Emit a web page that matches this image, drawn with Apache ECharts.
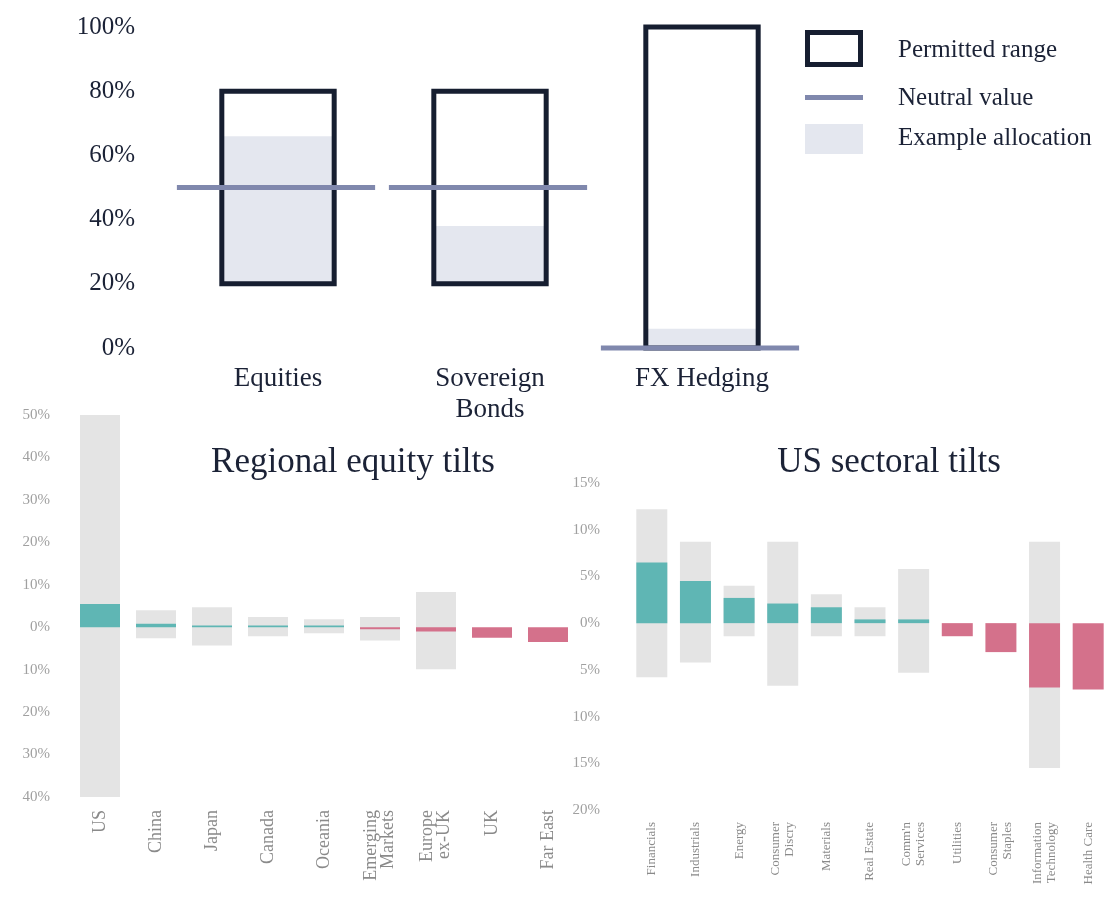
<!DOCTYPE html>
<html>
<head>
<meta charset="utf-8">
<script src="https://cdn.jsdelivr.net/npm/echarts@6/dist/echarts.min.js"></script>
<style>
  html, body { margin: 0; padding: 0; background: #fff; }
  #chart { width: 1110px; height: 915px; }
</style>
</head>
<body>
<div id="chart"></div>
<script>
// top panel: permitted ranges, neutral values, example allocation
var topCats = ['Equities', 'Sovereign\nBonds', 'FX Hedging'];
var rangeLow = [20, 20, 0];
var rangeHigh = [80, 80, 100];
var neutral = [50, 50, 0];
var allocation = [66, 38, 6];

// regional equity tilts
var regions = ['US', 'China', 'Japan', 'Canada', 'Oceania', 'Emerging\nMarkets', 'Europe\nex-UK', 'UK', 'Far East'];
var regionLow = [-40, -2.6, -4.3, -2.1, -1.4, -3.1, -9.9, null, null];
var regionHigh = [50, 4, 4.7, 2.4, 1.9, 2.4, 8.3, null, null];
var regionTilt = [5.5, 0.8, 0.4, 0.4, 0.4, -0.5, -1, -2.5, -3.5];

// US sectoral tilts
var sectors = ['Financials', 'Industrials', 'Energy', 'Consumer\nDiscry', 'Materials', 'Real Estate',
  'Comm\'n\nServices', 'Utilities', 'Consumer\nStaples', 'Information\nTechnology', 'Health Care'];
var sectorLow = [-5.8, -4.2, -1.4, -6.7, -1.4, -1.4, -5.3, null, null, -15.5, null];
var sectorHigh = [12.2, 8.7, 4, 8.7, 3.1, 1.7, 5.8, null, null, 8.7, null];
var sectorTilt = [6.5, 4.5, 2.7, 2.1, 1.7, 0.4, 0.4, -1.4, -3.1, -6.9, -7.1];

var navy = '#161e30';
var textNavy = '#1b2236';
var lilac = '#8088ad';
var paleFill = '#e4e7ef';
var rangeGray = '#e4e4e4';
var teal = '#5fb6b4';
var pink = '#d4718b';
var serif = '"Liberation Serif", "DejaVu Serif", serif';

var myChart = echarts.init(document.getElementById('chart'));

function pairs(lo, hi) {
  var out = [];
  for (var i = 0; i < lo.length; i++) {
    if (lo[i] != null && hi[i] != null) {
      out.push([i, lo[i], hi[i]]);
    }
  }
  return out;
}

function tiltData(arr) {
  return arr.map(function (v) {
    return { value: v, itemStyle: { color: v >= 0 ? teal : pink } };
  });
}

// plain filled range rect, width in px
function rangeRect(w) {
  return function (params, api) {
    var lo = api.coord([api.value(0), api.value(1)]);
    var hi = api.coord([api.value(0), api.value(2)]);
    return {
      type: 'rect',
      shape: { x: lo[0] - w / 2, y: hi[1], width: w, height: lo[1] - hi[1] },
      style: { fill: rangeGray }
    };
  };
}

var option = {
  animation: false,
  backgroundColor: '#fff',
  title: [{
    text: 'Regional equity tilts',
    left: 348, top: 440, textAlign: 'center',
    textStyle: { fontFamily: serif, fontSize: 35, fontWeight: 'normal', color: textNavy }
  }, {
    text: 'US sectoral tilts',
    left: 884, top: 440, textAlign: 'center',
    textStyle: { fontFamily: serif, fontSize: 35, fontWeight: 'normal', color: textNavy }
  }],
  grid: [
    { left: 172, width: 636, top: 27, height: 321 },
    { left: 72, width: 504, top: 415, height: 382 },
    { left: 630, width: 488, top: 483, height: 327 }
  ],
  xAxis: [{
    gridIndex: 0, type: 'category', data: topCats,
    axisLine: { show: false }, axisTick: { show: false },
    axisLabel: { margin: 15, fontFamily: serif, fontSize: 27, color: textNavy, lineHeight: 31 }
  }, {
    gridIndex: 1, type: 'category', data: regions,
    axisLine: { show: false }, axisTick: { show: false },
    axisLabel: { rotate: 90, margin: 13, interval: 0, fontFamily: serif, fontSize: 18, color: '#8a8a8a', lineHeight: 17 }
  }, {
    gridIndex: 2, type: 'category', data: sectors,
    axisLine: { show: false }, axisTick: { show: false },
    axisLabel: { rotate: 90, margin: 12, interval: 0, fontFamily: serif, fontSize: 13, color: '#8a8a8a', lineHeight: 14 }
  }],
  yAxis: [{
    gridIndex: 0, type: 'value', min: 0, max: 100, interval: 20,
    axisLine: { show: false }, axisTick: { show: false }, splitLine: { show: false },
    axisLabel: { margin: 37, fontFamily: serif, fontSize: 25, color: textNavy, formatter: '{value}%' }
  }, {
    gridIndex: 1, type: 'value', min: -40, max: 50, interval: 10,
    axisLine: { show: false }, axisTick: { show: false }, splitLine: { show: false },
    axisLabel: {
      margin: 22, fontFamily: serif, fontSize: 15, color: '#a0a0a0',
      formatter: function (v) { return Math.abs(v) + '%'; }
    }
  }, {
    gridIndex: 2, type: 'value', min: -20, max: 15, interval: 5,
    axisLine: { show: false }, axisTick: { show: false }, splitLine: { show: false },
    axisLabel: {
      margin: 30, fontFamily: serif, fontSize: 15, color: '#a0a0a0',
      formatter: function (v) { return Math.abs(v) + '%'; }
    }
  }],
  graphic: [
    { type: 'rect', left: 805, top: 30, shape: { width: 53, height: 32 }, style: { fill: 'none', stroke: navy, lineWidth: 5 } },
    { type: 'text', left: 898, top: 38, style: { text: 'Permitted range', font: '25px ' + serif, fill: textNavy } },
    { type: 'rect', left: 805, top: 95, shape: { width: 58, height: 5 }, style: { fill: lilac } },
    { type: 'text', left: 898, top: 86, style: { text: 'Neutral value', font: '25px ' + serif, fill: textNavy } },
    { type: 'rect', left: 805, top: 124, shape: { width: 58, height: 30 }, style: { fill: paleFill } },
    { type: 'text', left: 898, top: 126, style: { text: 'Example allocation', font: '25px ' + serif, fill: textNavy } }
  ],
  series: [{
    // example allocation fill inside the permitted range
    type: 'custom', xAxisIndex: 0, yAxisIndex: 0, z: 2,
    data: topCats.map(function (c, i) { return [i, rangeLow[i], allocation[i]]; }),
    renderItem: function (params, api) {
      var lo = api.coord([api.value(0), api.value(1)]);
      var hi = api.coord([api.value(0), api.value(2)]);
      var w = api.size([1, 0])[0] * 0.53;
      return { type: 'rect', shape: { x: lo[0] - w / 2, y: hi[1], width: w, height: lo[1] - hi[1] }, style: { fill: paleFill } };
    }
  }, {
    // permitted range outline
    type: 'custom', xAxisIndex: 0, yAxisIndex: 0, z: 3,
    data: topCats.map(function (c, i) { return [i, rangeLow[i], rangeHigh[i]]; }),
    renderItem: function (params, api) {
      var lo = api.coord([api.value(0), api.value(1)]);
      var hi = api.coord([api.value(0), api.value(2)]);
      var w = api.size([1, 0])[0] * 0.53;
      return { type: 'rect', shape: { x: lo[0] - w / 2, y: hi[1], width: w, height: lo[1] - hi[1] }, style: { fill: 'none', stroke: navy, lineWidth: 5 } };
    }
  }, {
    // neutral value
    type: 'custom', xAxisIndex: 0, yAxisIndex: 0, z: 4,
    data: topCats.map(function (c, i) { return [i, neutral[i]]; }),
    renderItem: function (params, api) {
      var p = api.coord([api.value(0), api.value(1)]);
      var w = api.size([1, 0])[0] * 0.935;
      return { type: 'rect', shape: { x: p[0] - w / 2 - 2, y: p[1] - 2.5, width: w, height: 5 }, style: { fill: lilac } };
    }
  }, {
    type: 'custom', xAxisIndex: 1, yAxisIndex: 1, z: 2,
    data: pairs(regionLow, regionHigh),
    encode: { x: 0, y: [1, 2] },
    renderItem: rangeRect(40)
  }, {
    type: 'bar', xAxisIndex: 1, yAxisIndex: 1, z: 3,
    barWidth: 40,
    data: tiltData(regionTilt)
  }, {
    type: 'custom', xAxisIndex: 2, yAxisIndex: 2, z: 2,
    data: pairs(sectorLow, sectorHigh),
    encode: { x: 0, y: [1, 2] },
    renderItem: rangeRect(31)
  }, {
    type: 'bar', xAxisIndex: 2, yAxisIndex: 2, z: 3,
    barWidth: 31,
    data: tiltData(sectorTilt)
  }]
};

myChart.setOption(option);
</script>
</body>
</html>
